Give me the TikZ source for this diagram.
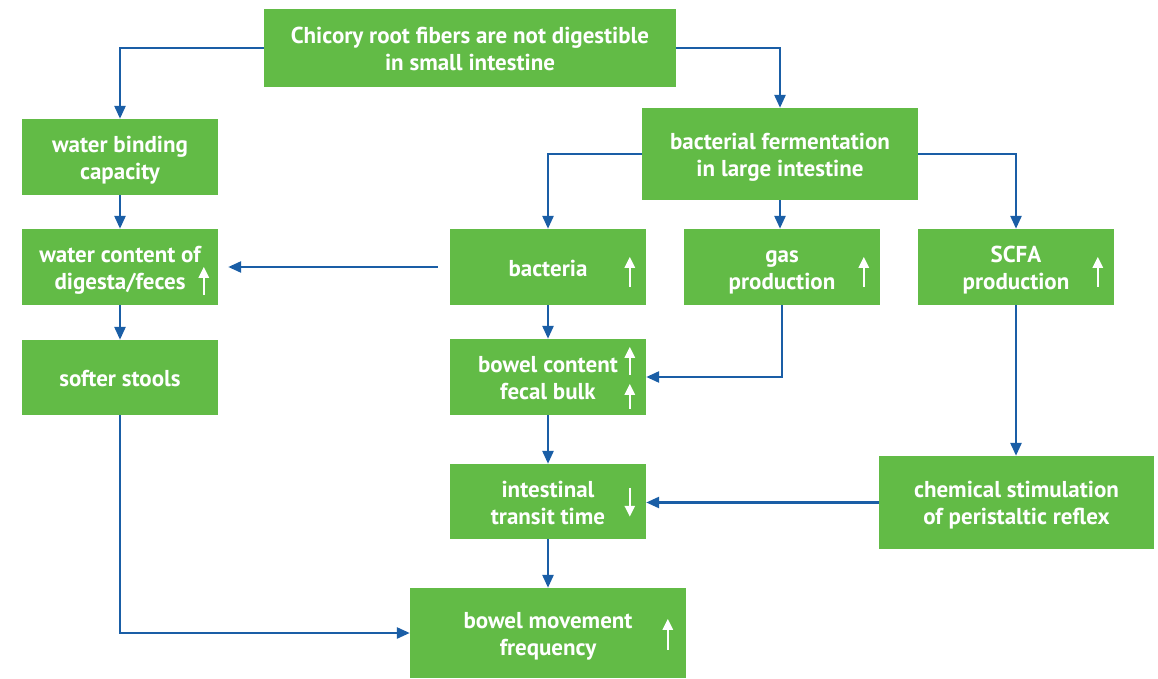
\documentclass[tikz,border=0pt]{standalone}
\usepackage{fontspec}
\setmainfont{PT Sans}
\usetikzlibrary{arrows.meta,calc}
\definecolor{boxgreen}{HTML}{62BB46}
\definecolor{arrblue}{HTML}{1A5EA6}
\newcommand\bs{\rule[-4pt]{0pt}{26pt}}
\begin{document}
\begin{tikzpicture}[x=1pt,y=-1pt,
  box/.style={fill=boxgreen,draw=none,text=white,align=center,inner sep=0pt,
    font=\bfseries\fontsize{23}{27}\selectfont},
  arr/.style={draw=arrblue,line width=2.6pt,-{Triangle[length=13pt,width=11pt]}},
  wup/.style={draw=white,line width=2.6pt,-{Triangle[length=11pt,width=10pt]}}
]
\useasboundingbox (0,0) rectangle (1158,679);
\node[box,minimum width=412pt,minimum height=78pt] (top) at (470,48) {\bs Chicory root fibers are not digestible\\\bs in small intestine};
\node[box,minimum width=196pt,minimum height=76pt] (wbc) at (120,157) {\bs water binding\\\bs capacity};
\node[box,minimum width=196pt,minimum height=76pt] (wco) at (120,267) {\bs water content of\\\bs digesta/feces};
\node[box,minimum width=196pt,minimum height=75pt] (soft) at (120,377.5) {\bs softer stools};
\node[box,minimum width=276pt,minimum height=92pt] (ferm) at (780,154) {\bs bacterial fermentation\\\bs in large intestine};
\node[box,minimum width=196pt,minimum height=76pt] (bact) at (548,267) {\bs bacteria};
\node[box,minimum width=196pt,minimum height=76pt] (gas) at (782,267) {\bs gas\\\bs production};
\node[box,minimum width=196pt,minimum height=76pt] (scfa) at (1016,267) {\bs SCFA\\\bs production};
\node[box,minimum width=196pt,minimum height=76pt] (bowel) at (548,377) {\bs bowel content\\\bs fecal bulk};
\node[box,minimum width=196pt,minimum height=75pt] (trans) at (548,501.5) {\bs intestinal\\\bs transit time};
\node[box,minimum width=276pt,minimum height=90pt] (move) at (548,633) {\bs bowel movement\\\bs frequency};
\node[box,minimum width=275pt,minimum height=93pt] (chem) at (1016.5,502.5) {\bs chemical stimulation\\\bs of peristaltic reflex};
% connectors
\draw[arr] (top.west) -| (wbc.north);
\draw[arr] (top.east) -| (ferm.north);
\draw[arr] (wbc) -- (wco);
\draw[arr] (wco) -- (soft);
\draw[arr] (ferm.west) -| (bact.north);
\draw[arr] (ferm.south) -- (ferm.south |- gas.north);
\draw[arr] (ferm.east) -| (scfa.north);
\draw[arr,shorten <=12pt,shorten >=10pt] (bact.west) -- (wco.east);
\draw[arr] (bact) -- (bowel);
\draw[arr] (gas.south) |- (bowel.east);
\draw[arr] (bowel) -- (trans);
\draw[arr] (scfa.south) -- (scfa.south |- chem.north);
\draw[arr] (chem.west) -- (chem.west -| trans.east);
\draw[arr] (trans) -- (move);
\draw[arr] (soft.south) |- (move.west);
% white trend arrows
\draw[wup] ($(wco.north west)+(182,66)$) -- ++(0,-28);
\draw[wup] ($(bact.north west)+(180,58)$) -- ++(0,-30);
\draw[wup] ($(gas.north west)+(180,58)$) -- ++(0,-30);
\draw[wup] ($(scfa.north west)+(180,58)$) -- ++(0,-30);
\draw[wup] ($(bowel.north west)+(180,36)$) -- ++(0,-28);
\draw[wup] ($(bowel.north west)+(180,70)$) -- ++(0,-25);
\draw[wup] ($(trans.north west)+(180,24)$) -- ++(0,29);
\draw[wup] ($(move.north west)+(258,62)$) -- ++(0,-31);
\end{tikzpicture}
\end{document}
